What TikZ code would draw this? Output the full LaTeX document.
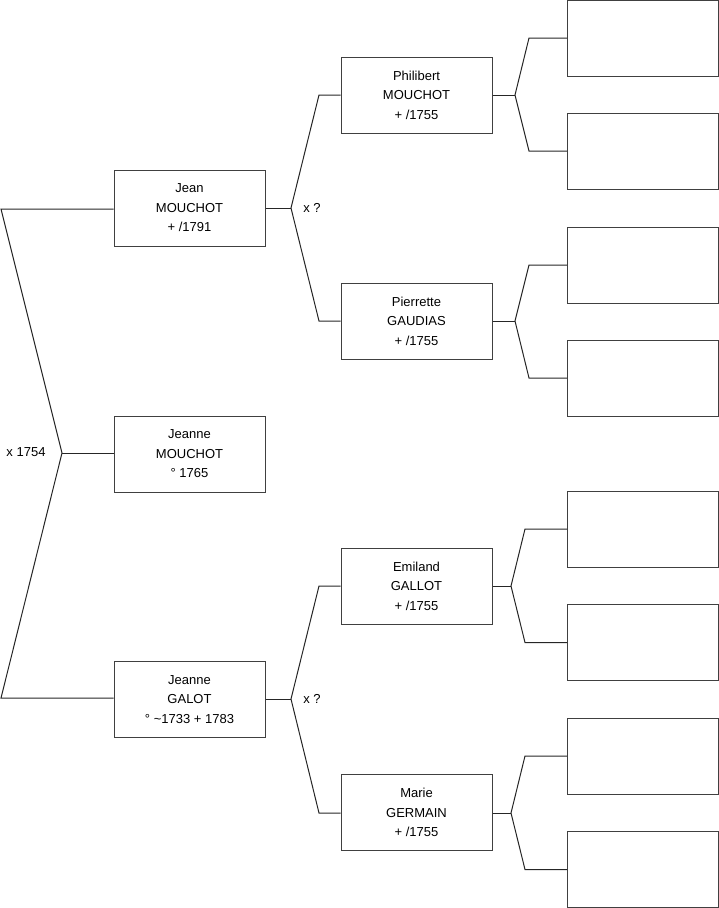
\documentclass[tikz,border=0pt]{standalone}
\usepackage{fontspec}
\setmainfont{Liberation Sans}
\begin{document}
\begin{tikzpicture}[x=1pt,y=-1pt,
  person/.style={draw=black!75, line width=1pt, rectangle, minimum width=151pt, minimum height=76pt, inner sep=0pt, align=center, font=\fontsize{13}{19.5}\selectfont},
  link/.style={draw=black!85, line width=1pt},
  lab/.style={font=\fontsize{13}{15}\selectfont, inner sep=0pt}]
\useasboundingbox (0,0) rectangle (719,908);
% generation 1
\node[person] (jean) at (189.5,208) {Jean\\MOUCHOT\\+ /1791};
\node[person] (jm) at (189.5,454) {Jeanne\\MOUCHOT\\° 1765};
\node[person] (galot) at (189.5,699.5) {Jeanne\\GALOT\\° \textasciitilde1733 + 1783};
% generation 2
\node[person] (phil) at (416.5,95) {Philibert\\MOUCHOT\\+ /1755};
\node[person] (pier) at (416.5,321) {Pierrette\\GAUDIAS\\+ /1755};
\node[person] (emil) at (416.5,586) {Emiland\\GALLOT\\+ /1755};
\node[person] (marie) at (416.5,812.5) {Marie\\GERMAIN\\+ /1755};
% generation 3
\node[person] (r1) at (643,38) {};
\node[person] (r2) at (643,151) {};
\node[person] (r3) at (643,265) {};
\node[person] (r4) at (643,378) {};
\node[person] (r5) at (643,529) {};
\node[person] (r6) at (643,642.5) {};
\node[person] (r7) at (643,756) {};
\node[person] (r8) at (643,869.5) {};
% couple 0
\coordinate (c0a) at (1,209);
\coordinate (c0b) at (1,698);
\coordinate (f0) at (62,453);
\draw[link] (jean.west |- c0a) -- (c0a) -- (f0) -- (c0b) -- (galot.west |- c0b);
\draw[link] (f0) -- (jm.west |- f0);
\node[lab] (m0) at (26,452) {x 1754};
% couple Jean
\coordinate (f1) at (291,208);
\coordinate (f1a) at (319,95);
\coordinate (f1b) at (319,321);
\draw[link] (jean.east) -- (f1);
\draw[link] (phil.west) -- (f1a) -- (f1) -- (f1b) -- (pier.west);
\node[lab] (m1) at (312,208) {x ?};
% couple Galot
\coordinate (f2) at (291,699);
\coordinate (f2a) at (319,586);
\coordinate (f2b) at (319,813);
\draw[link] (galot.east |- f2) -- (f2);
\draw[link] (emil.west |- f2a) -- (f2a) -- (f2) -- (f2b) -- (marie.west |- f2b);
\node[lab] (m2) at (312,699) {x ?};
% Philibert
\coordinate (g1) at (515,95);
\draw[link] (phil.east) -- (g1);
\draw[link] (r1.west) -- (529,38) -- (g1) -- (529,151) -- (r2.west);
% Pierrette
\coordinate (g2) at (515,321);
\draw[link] (pier.east) -- (g2);
\draw[link] (r3.west) -- (529,265) -- (g2) -- (529,378) -- (r4.west);
% Emiland
\coordinate (g3) at (511,586);
\draw[link] (emil.east) -- (g3);
\draw[link] (r5.west) -- (525,529) -- (g3) -- (525,642.5) -- (r6.west);
% Marie
\coordinate (g4) at (511,813);
\draw[link] (marie.east |- g4) -- (g4);
\draw[link] (r7.west) -- (525,756) -- (g4) -- (525,869.5) -- (r8.west);
\end{tikzpicture}
\end{document}
